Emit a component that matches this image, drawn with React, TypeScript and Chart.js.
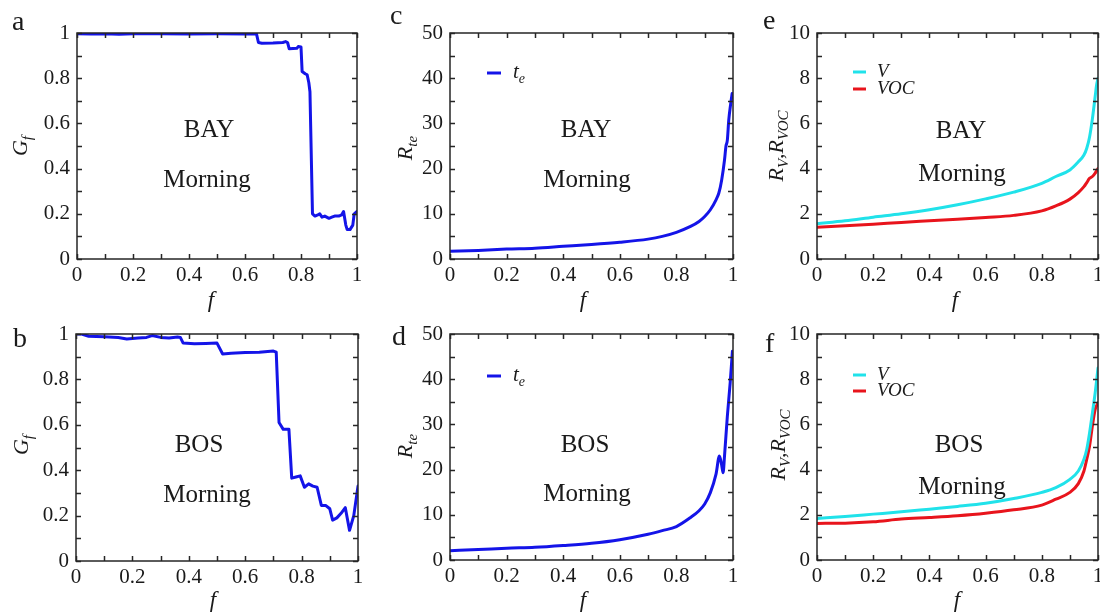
import React, { useEffect, useRef } from "react";
import { Chart, registerables } from "chart.js";

Chart.register(...registerables);

const FONT = '"Liberation Serif", "Times New Roman", serif';
const BLUE = "#1414e8";
const CYAN = "#20e2ea";
const RED = "#e8141c";
const INK = "#1a1a1a";

// tick labels
const fTickLabels = ["0", "0.2", "0.4", "0.6", "0.8", "1"];
const gTickLabels = ["0", "0.2", "0.4", "0.6", "0.8", "1"];
const rteTickLabels = ["0", "10", "20", "30", "40", "50"];
const rvTickLabels = ["0", "2", "4", "6", "8", "10"];

// panel a: BAY morning, G_f
const fA = [0, 0.05, 0.1, 0.15, 0.2, 0.3, 0.4, 0.5, 0.6, 0.641, 0.648, 0.66, 0.7, 0.735, 0.745, 0.752, 0.758, 0.785, 0.79, 0.8, 0.804, 0.815, 0.822, 0.828, 0.832, 0.841, 0.85, 0.86, 0.867, 0.875, 0.885, 0.9, 0.91, 0.92, 0.935, 0.945, 0.952, 0.96, 0.965, 0.975, 0.985, 0.99, 1.0];
const gA = [0.997, 0.996, 0.997, 0.995, 0.997, 0.997, 0.996, 0.997, 0.996, 0.996, 0.958, 0.955, 0.956, 0.958, 0.962, 0.958, 0.93, 0.932, 0.94, 0.938, 0.83, 0.82, 0.815, 0.78, 0.74, 0.2, 0.19, 0.195, 0.2, 0.185, 0.19, 0.18, 0.185, 0.19, 0.19, 0.195, 0.21, 0.15, 0.13, 0.13, 0.15, 0.2, 0.21];

// panel b: BOS morning, G_f
const fB = [0, 0.02, 0.045, 0.1, 0.15, 0.18, 0.22, 0.25, 0.27, 0.3, 0.33, 0.36, 0.37, 0.38, 0.42, 0.46, 0.5, 0.52, 0.55, 0.6, 0.65, 0.7, 0.71, 0.72, 0.735, 0.755, 0.765, 0.78, 0.795, 0.81, 0.825, 0.84, 0.855, 0.87, 0.885, 0.9, 0.91, 0.925, 0.94, 0.955, 0.97, 0.985, 1.0];
const gB = [1.0, 1.0, 0.99, 0.988, 0.985, 0.978, 0.982, 0.985, 0.993, 0.985, 0.982, 0.987, 0.985, 0.96, 0.957, 0.958, 0.96, 0.912, 0.915, 0.918, 0.92, 0.925, 0.92, 0.61, 0.58, 0.58, 0.365, 0.37, 0.375, 0.325, 0.34, 0.33, 0.325, 0.245, 0.245, 0.23, 0.18, 0.19, 0.21, 0.235, 0.135, 0.2, 0.33];

// panel c: BAY morning, R_te
const fC = [0, 0.1, 0.2, 0.3, 0.4, 0.5, 0.6, 0.7, 0.75, 0.8, 0.85, 0.88, 0.9, 0.92, 0.94, 0.95, 0.96, 0.97, 0.975, 0.98, 0.985, 0.992, 0.997];
const rteC = [1.7, 1.9, 2.2, 2.4, 2.8, 3.2, 3.7, 4.4, 5.0, 5.9, 7.2, 8.3, 9.4, 10.9, 13.1, 14.6, 17.5, 21.9, 24.9, 26.3, 30.7, 34.4, 36.6];

// panel d: BOS morning, R_te
const fD = [0, 0.1, 0.2, 0.3, 0.4, 0.5, 0.6, 0.7, 0.75, 0.8, 0.85, 0.88, 0.9, 0.92, 0.94, 0.952, 0.96, 0.965, 0.97, 0.98, 0.99, 0.998];
const rteD = [2.06, 2.3, 2.6, 2.8, 3.2, 3.7, 4.5, 5.7, 6.5, 7.4, 9.4, 10.9, 12.4, 14.9, 19.0, 23.0, 21.0, 19.3, 23.0, 31.8, 39.2, 46.2];

// panel e: BAY morning, R_V and R_VOC
const fE = [0, 0.1, 0.2, 0.3, 0.4, 0.5, 0.6, 0.7, 0.8, 0.85, 0.9, 0.93, 0.95, 0.96, 0.97, 0.98, 0.99, 0.995, 1.0];
const rvE = [1.56, 1.69, 1.85, 2.0, 2.18, 2.4, 2.66, 2.96, 3.35, 3.65, 3.94, 4.3, 4.6, 4.9, 5.4, 6.2, 7.2, 7.7, 8.0];
const rvocE = [1.4, 1.47, 1.54, 1.62, 1.69, 1.76, 1.84, 1.93, 2.13, 2.35, 2.65, 2.94, 3.2, 3.38, 3.57, 3.65, 3.8, 3.9, 4.0];

// panel f: BOS morning, R_V and R_VOC
const fF = [0, 0.1, 0.2, 0.3, 0.4, 0.5, 0.6, 0.7, 0.8, 0.85, 0.9, 0.93, 0.95, 0.96, 0.97, 0.98, 0.99, 1.0];
const rvF = [1.84, 1.93, 2.03, 2.13, 2.25, 2.37, 2.51, 2.72, 2.99, 3.2, 3.57, 3.94, 4.46, 4.9, 5.63, 6.5, 7.4, 8.5];
const rvocF = [1.62, 1.63, 1.69, 1.81, 1.88, 1.96, 2.07, 2.22, 2.43, 2.69, 2.99, 3.38, 3.94, 4.46, 5.04, 5.93, 6.66, 6.96];

type Part = { t: string; italic?: boolean; sub?: boolean };

interface Series {
  f: number[];
  v: number[];
  color: string;
  label: Part[];
}

interface Panel {
  key: string;
  letter: string;
  letterPos: [number, number];
  box: [number, number, number, number]; // canvas left, top, width, height
  plot: [number, number, number, number]; // abs l, t, r, b
  yMax: number;
  yStep: number;
  yLabels: string[];
  yTitle: Part[];
  yTitlePos: [number, number];
  fTitlePos: [number, number];
  series: Series[];
  smooth: boolean;
  legend: null | { x1: number; x2: number; tx: number; rows: number[]; size: number };
  site: string;
  sitePos: [number, number];
  timePos: [number, number];
}

const G_TITLE: Part[] = [{ t: "G", italic: true }, { t: "f", italic: true, sub: true }];
const RTE_TITLE: Part[] = [{ t: "R", italic: true }, { t: "te", italic: true, sub: true }];
const RV_TITLE: Part[] = [
  { t: "R", italic: true },
  { t: "V", italic: true, sub: true },
  { t: "," },
  { t: "R", italic: true },
  { t: "VOC", italic: true, sub: true },
];
const TE_LABEL: Part[] = [{ t: "t", italic: true }, { t: "e", italic: true, sub: true }];

const panels: Panel[] = [
  {
    key: "a", letter: "a", letterPos: [12, 30],
    box: [0, 0, 372, 320], plot: [77, 33, 357, 259],
    yMax: 1, yStep: 0.2, yLabels: gTickLabels, yTitle: G_TITLE, yTitlePos: [27, 146],
    fTitlePos: [211, 307],
    series: [{ f: fA, v: gA, color: BLUE, label: [] }], smooth: false, legend: null,
    site: "BAY", sitePos: [209, 137], timePos: [207, 187],
  },
  {
    key: "c", letter: "c", letterPos: [390, 24],
    box: [372, 0, 372, 320], plot: [450, 33, 733, 259],
    yMax: 50, yStep: 10, yLabels: rteTickLabels, yTitle: RTE_TITLE, yTitlePos: [412, 148],
    fTitlePos: [583, 307],
    series: [{ f: fC, v: rteC, color: BLUE, label: TE_LABEL }], smooth: true,
    legend: { x1: 487, x2: 501, tx: 513, rows: [73], size: 21 },
    site: "BAY", sitePos: [586, 137], timePos: [587, 187],
  },
  {
    key: "e", letter: "e", letterPos: [763, 29],
    box: [744, 0, 356, 320], plot: [817, 33, 1098, 259],
    yMax: 10, yStep: 2, yLabels: rvTickLabels, yTitle: RV_TITLE, yTitlePos: [783, 146],
    fTitlePos: [955, 307],
    series: [
      { f: fE, v: rvE, color: CYAN, label: [{ t: "V", italic: true }] },
      { f: fE, v: rvocE, color: RED, label: [{ t: "VOC", italic: true }] },
    ],
    smooth: true,
    legend: { x1: 853, x2: 866, tx: 877, rows: [72, 89], size: 19 },
    site: "BAY", sitePos: [961, 138], timePos: [962, 181],
  },
  {
    key: "b", letter: "b", letterPos: [13, 347],
    box: [0, 300, 372, 312], plot: [76, 334, 358, 561],
    yMax: 1, yStep: 0.2, yLabels: gTickLabels, yTitle: G_TITLE, yTitlePos: [28, 445],
    fTitlePos: [213, 607],
    series: [{ f: fB, v: gB, color: BLUE, label: [] }], smooth: false, legend: null,
    site: "BOS", sitePos: [199, 452], timePos: [207, 502],
  },
  {
    key: "d", letter: "d", letterPos: [392, 345],
    box: [372, 300, 372, 312], plot: [450, 334, 733, 560],
    yMax: 50, yStep: 10, yLabels: rteTickLabels, yTitle: RTE_TITLE, yTitlePos: [412, 446],
    fTitlePos: [583, 607],
    series: [{ f: fD, v: rteD, color: BLUE, label: TE_LABEL }], smooth: true,
    legend: { x1: 487, x2: 501, tx: 513, rows: [376], size: 21 },
    site: "BOS", sitePos: [585, 452], timePos: [587, 501],
  },
  {
    key: "f", letter: "f", letterPos: [765, 352],
    box: [744, 300, 356, 312], plot: [817, 334, 1098, 560],
    yMax: 10, yStep: 2, yLabels: rvTickLabels, yTitle: RV_TITLE, yTitlePos: [785, 445],
    fTitlePos: [957, 607],
    series: [
      { f: fF, v: rvF, color: CYAN, label: [{ t: "V", italic: true }] },
      { f: fF, v: rvocF, color: RED, label: [{ t: "VOC", italic: true }] },
    ],
    smooth: true,
    legend: { x1: 853, x2: 866, tx: 877, rows: [375, 391], size: 19 },
    site: "BOS", sitePos: [959, 452], timePos: [962, 494],
  },
];

function fontStr(size: number, italic?: boolean) {
  return `${italic ? "italic " : ""}${size}px ${FONT}`;
}

function drawRich(
  ctx: CanvasRenderingContext2D,
  parts: Part[],
  x: number,
  y: number,
  size: number,
  align: "center" | "left",
  rotate: boolean
) {
  const subSize = Math.round(size * 0.68);
  let total = 0;
  const widths = parts.map((p) => {
    ctx.font = fontStr(p.sub ? subSize : size, p.italic);
    const w = ctx.measureText(p.t).width;
    total += w;
    return w;
  });
  ctx.save();
  ctx.translate(x, y);
  if (rotate) ctx.rotate(-Math.PI / 2);
  ctx.textAlign = "left";
  ctx.textBaseline = "alphabetic";
  ctx.fillStyle = INK;
  let cx = align === "center" ? -total / 2 : 0;
  parts.forEach((p, i) => {
    ctx.font = fontStr(p.sub ? subSize : size, p.italic);
    ctx.fillText(p.t, cx, p.sub ? size * 0.22 : 0);
    cx += widths[i];
  });
  ctx.restore();
}

function makeOverlay(p: Panel) {
  const [L, T] = p.box;
  return {
    id: "overlay-" + p.key,
    afterDraw(chart: any) {
      const ctx: CanvasRenderingContext2D = chart.ctx;
      const { left, top, right, bottom } = chart.chartArea;
      const xs = chart.scales.x;
      const ys = chart.scales.y;
      ctx.save();
      ctx.strokeStyle = "#262626";
      ctx.lineWidth = 1.5;
      const TL = 5;
      ctx.beginPath();
      // x ticks (major 0.2, minor 0.1)
      for (let i = 0; i <= 10; i++) {
        const px = Math.round(xs.getPixelForValue(i / 10)) + 0.5;
        ctx.moveTo(px, bottom);
        ctx.lineTo(px, bottom - TL);
        ctx.moveTo(px, top);
        ctx.lineTo(px, top + TL);
      }
      const half = p.yStep / 2;
      const n = Math.round(p.yMax / half);
      for (let i = 0; i <= n; i++) {
        const py = Math.round(ys.getPixelForValue(i * half)) + 0.5;
        ctx.moveTo(left, py);
        ctx.lineTo(left + TL, py);
        ctx.moveTo(right, py);
        ctx.lineTo(right - TL, py);
      }
      ctx.stroke();
      ctx.strokeRect(left, top, right - left, bottom - top);
      ctx.restore();

      // panel letter
      ctx.save();
      ctx.fillStyle = INK;
      ctx.font = fontStr(28);
      ctx.textAlign = "left";
      ctx.textBaseline = "alphabetic";
      ctx.fillText(p.letter, p.letterPos[0] - L, p.letterPos[1] - T);
      // site / time annotations
      ctx.font = fontStr(25);
      ctx.textAlign = "center";
      ctx.fillText(p.site, p.sitePos[0] - L, p.sitePos[1] - T);
      ctx.fillText("Morning", p.timePos[0] - L, p.timePos[1] - T);
      ctx.restore();

      // axis titles
      drawRich(ctx, p.yTitle, p.yTitlePos[0] - L, p.yTitlePos[1] - T, 22, "center", true);
      drawRich(ctx, [{ t: "f", italic: true }], p.fTitlePos[0] - L, p.fTitlePos[1] - T, 23, "center", false);

      // legend
      if (p.legend) {
        const lg = p.legend;
        p.series.forEach((s, i) => {
          const ly = lg.rows[i] - T;
          ctx.save();
          ctx.strokeStyle = s.color;
          ctx.lineWidth = 3;
          ctx.beginPath();
          ctx.moveTo(lg.x1 - L, ly);
          ctx.lineTo(lg.x2 - L, ly);
          ctx.stroke();
          ctx.restore();
          drawRich(ctx, s.label, lg.tx - L, ly + 5, lg.size, "left", false);
        });
      }
    },
  };
}

function PanelChart({ p }: { p: Panel }) {
  const ref = useRef<HTMLCanvasElement | null>(null);
  useEffect(() => {
    if (!ref.current) return;
    const [L, T, W, H] = p.box;
    const [pl, pt, pr, pb] = p.plot;
    const chart = new Chart(ref.current, {
      type: "line",
      data: {
        datasets: p.series.map((s) => ({
          data: s.f.map((x, i) => ({ x, y: s.v[i] })),
          borderColor: s.color,
          backgroundColor: s.color,
          borderWidth: 3,
          pointRadius: 0,
          fill: false,
          tension: 0,
          cubicInterpolationMode: p.smooth ? "monotone" : "default",
          borderJoinStyle: "round",
          borderCapStyle: "round",
        })) as any,
      },
      options: {
        responsive: false,
        animation: false,
        devicePixelRatio: 1,
        layout: { padding: { left: 0, top: pt - T, right: L + W - pr, bottom: 0 } },
        plugins: { legend: { display: false }, tooltip: { enabled: false }, title: { display: false } },
        scales: {
          x: {
            type: "linear",
            min: 0,
            max: 1,
            grid: { display: false, drawTicks: false },
            border: { display: false },
            ticks: {
              stepSize: 0.2,
              padding: 4,
              autoSkip: false,
              maxRotation: 0,
              color: INK,
              font: { family: FONT, size: 21 },
              callback: (v: any) => fTickLabels[Math.round(Number(v) / 0.2)],
            },
            afterFit: (s: any) => {
              s.height = T + H - pb;
              s.paddingLeft = 0;
              s.paddingRight = 0;
            },
          },
          y: {
            type: "linear",
            min: 0,
            max: p.yMax,
            grid: { display: false, drawTicks: false },
            border: { display: false },
            ticks: {
              stepSize: p.yStep,
              padding: 7,
              autoSkip: false,
              color: INK,
              font: { family: FONT, size: 21 },
              callback: (v: any) => p.yLabels[Math.round(Number(v) / p.yStep)],
            },
            afterFit: (s: any) => {
              s.width = pl - L;
              s.paddingTop = 0;
              s.paddingBottom = 0;
            },
          },
        },
      } as any,
      plugins: [makeOverlay(p)],
    });
    return () => chart.destroy();
  }, [p]);
  const [L, T, W, H] = p.box;
  return (
    <canvas
      ref={ref}
      width={W}
      height={H}
      style={{ position: "absolute", left: L, top: T, width: W, height: H, display: "block" }}
    />
  );
}

export default function App() {
  return (
    <div
      style={{
        position: "absolute",
        left: 0,
        top: 0,
        width: 1100,
        height: 612,
        background: "#ffffff",
        overflow: "hidden",
      }}
    >
      {panels.map((p) => (
        <PanelChart key={p.key} p={p} />
      ))}
    </div>
  );
}
